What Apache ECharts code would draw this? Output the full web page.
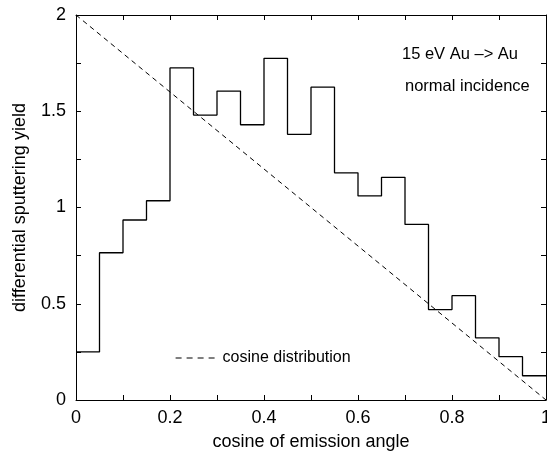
<!DOCTYPE html>
<html>
<head>
<meta charset="utf-8">
<script src="https://cdn.jsdelivr.net/npm/echarts@6/dist/echarts.min.js"></script>
<style>
    html, body { margin: 0; padding: 0; background: #fff; }
    #chart1 { width: 547px; height: 452px; }
</style>
</head>
<body>
<div id="chart1"></div>
<script>
    // bin edges of the histogram (cosine of emission angle)
    var binEdges = [0, 0.05, 0.1, 0.15, 0.2, 0.25, 0.3, 0.35, 0.4, 0.45, 0.5,
        0.55, 0.6, 0.65, 0.7, 0.75, 0.8, 0.85, 0.9, 0.95, 1];
    // differential sputtering yield per bin
    var yieldValues = [0.25, 0.765, 0.935, 1.035, 1.725, 1.48, 1.605, 1.43, 1.775, 1.38,
        1.625, 1.18, 1.06, 1.157, 0.912, 0.47, 0.542, 0.323, 0.225, 0.126];
    // cosine distribution endpoints
    var cosineX = [0, 1];
    var cosineY = [2, 0];

    var font = '"Liberation Sans", Arial, Helvetica, sans-serif';

    var chart1 = echarts.init(document.getElementById('chart1'));

    var stepData = binEdges.map(function (x, i) {
        return [x, yieldValues[Math.min(i, yieldValues.length - 1)]];
    });
    var cosData = cosineX.map(function (x, i) {
        return [x, cosineY[i]];
    });

    function axisBits() {
        return {
            axisLine: {show: true, onZero: false, lineStyle: {color: '#000', width: 1}},
            axisTick: {show: true, inside: true, length: 5, lineStyle: {color: '#000'}},
            minorTick: {show: true, splitNumber: 2, length: 5, lineStyle: {color: '#000'}},
            splitLine: {show: false}
        };
    }

    var option = {
        animation: false,
        grid: {left: 76, right: 1, top: 15, bottom: 52, outerBoundsMode: 'none'},
        legend: {
            data: ['cosine distribution'],
            left: 170,
            top: 345,
            itemWidth: 42,
            itemHeight: 14,
            itemGap: 10,
            textStyle: {color: '#000', fontSize: 16, fontFamily: font},
            itemStyle: {opacity: 0},
            lineStyle: {type: [6, 5], width: 1.2, color: '#000'}
        },
        graphic: [
            {type: 'text', left: 402, top: 46,
                style: {text: '15 eV Au \u2013> Au', fontSize: 16.5, fontFamily: font, fill: '#000'}},
            {type: 'text', left: 405, top: 78,
                style: {text: 'normal incidence', fontSize: 16.5, fontFamily: font, fill: '#000'}}
        ],
        xAxis: [
            Object.assign({
                type: 'value', min: 0, max: 1, interval: 0.2, position: 'bottom',
                name: 'cosine of emission angle', nameLocation: 'middle', nameGap: 33,
                nameTextStyle: {color: '#000', fontSize: 18, fontFamily: font},
                axisLabel: {color: '#000', fontSize: 18, fontFamily: font, margin: 9}
            }, axisBits()),
            Object.assign({
                type: 'value', min: 0, max: 1, interval: 0.2, position: 'top',
                axisLabel: {show: false}
            }, axisBits())
        ],
        yAxis: [
            Object.assign({
                type: 'value', min: 0, max: 2, interval: 0.5, position: 'left',
                name: 'differential sputtering yield', nameLocation: 'middle', nameGap: 47,
                nameTextStyle: {color: '#000', fontSize: 18, fontFamily: font},
                axisLabel: {color: '#000', fontSize: 18, fontFamily: font, margin: 10}
            }, axisBits()),
            Object.assign({
                type: 'value', min: 0, max: 2, interval: 0.5, position: 'right',
                axisLabel: {show: false}
            }, axisBits())
        ],
        series: [
            {
                name: 'histogram',
                type: 'line',
                step: 'end',
                symbol: 'none',
                data: stepData,
                lineStyle: {color: '#000', width: 1.3}
            },
            {
                name: 'cosine distribution',
                type: 'line',
                symbol: 'none',
                data: cosData,
                lineStyle: {color: '#000', width: 1, type: [5, 4]}
            }
        ]
    };

    chart1.setOption(option);
    window.addEventListener('resize', function () {
        chart1.resize();
    });
</script>
</body>
</html>
